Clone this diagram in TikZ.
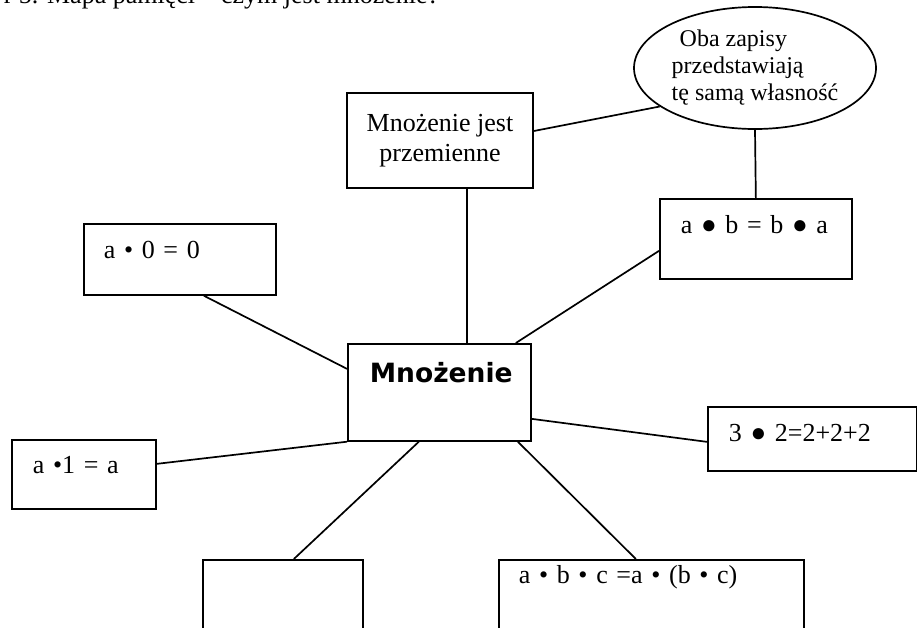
\documentclass[tikz,border=0pt]{standalone}
\usepackage{fontspec}
\setmainfont{Liberation Serif}
\newfontfamily\heavyfont{DejaVu Sans}
\usetikzlibrary{shapes.geometric}

\begin{document}
\begin{tikzpicture}[x=1pt, y=-1pt, line width=1.7pt,
  box/.style={draw, rectangle, anchor=north west, inner ysep=0pt, inner xsep=20pt,
    align=left, font=\fontsize{26}{30}\selectfont}]
  \useasboundingbox (0,0) rectangle (917,627);
  \clip (0,0) rectangle (917,627);

  % caption, cut by the page edge
  \node [anchor=base east, inner sep=0pt, font=\fontsize{26}{30}\selectfont] (title) at (440,3)
    {r 5. Mapa pamięci – czym jest mnożenie?};

  \node [draw, ellipse, minimum width=242, minimum height=122, inner sep=0pt, align=left,
    font=\fontsize{24}{27}\selectfont] (ell) at (755,68)
    {\hspace*{8pt}Oba zapisy\\przedstawiają\\tę samą własność};
  \node [draw, rectangle, minimum width=186, minimum height=95, align=center,
    font=\fontsize{26}{30}\selectfont] (prz) at (440,140.5) {Mnożenie jest\\przemienne};

  \node [box, text width=150pt, inner xsep=21pt, text height=35pt, text depth=45pt] (aboa) at (659,198) {a ● b = b ● a};
  \node [box, text width=152pt, text height=35pt, text depth=36pt] (azero) at (83,223) {a • 0 = 0};
  \node [box, text width=139pt, inner xsep=22pt, text height=39pt, text depth=58pt,
    font=\heavyfont\bfseries\fontsize{26.5}{30}\selectfont] (mnoz) at (347,343) {Mnożenie};
  \node [box, text width=167pt, inner xsep=21pt, text height=35pt, text depth=29pt] (three) at (707,406) {3 ● 2=2+2+2};
  \node [box, text width=102pt, inner xsep=21pt, text height=34pt, text depth=35pt] (aone) at (11,439) {a •1 = a};
  \node [box, text width=120pt, minimum height=100pt] (empty) at (202,559) {};
  \node [box, text width=265pt, text height=24pt, text depth=80pt] (abc) at (498,559) {a • b • c =a • (b • c)};

  \coordinate (c1) at ([xshift=27pt]prz.south);
  \draw (c1) -- (c1 |- mnoz.north);
  \draw ([yshift=9.5pt]prz.east) -- (ell.202.8);
  \draw (ell.south) -- (aboa.north);
  \draw ([yshift=-12pt]aboa.west) -- ([xshift=76.5pt]mnoz.north);
  \draw ([xshift=24pt]azero.south) -- ([yshift=23.5pt]mnoz.west);
  \draw (mnoz.south west) -- ([yshift=10.5pt]aone.east);
  \draw ([yshift=-26.5pt]mnoz.east) -- ([yshift=-3pt]three.west);
  \draw ([xshift=-20.5pt]mnoz.south) -- ([xshift=11pt]empty.north);
  \draw ([xshift=78.5pt]mnoz.south) -- ([xshift=-15.5pt]abc.north);
\end{tikzpicture}
\end{document}
